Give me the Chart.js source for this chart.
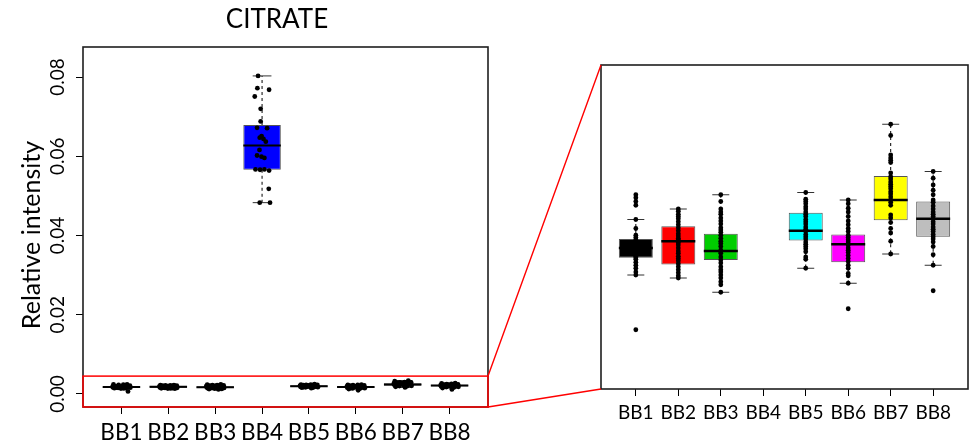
<!DOCTYPE html>
<html>
<head>
<meta charset="utf-8">
<title>CITRATE</title>
<script src="https://cdn.jsdelivr.net/npm/chart.js@4.4.1/dist/chart.umd.min.js"></script>
<style>
  html, body { margin: 0; padding: 0; background: #ffffff; }
  #wrap { position: relative; width: 980px; height: 445px; overflow: hidden; }
  #wrap canvas { position: absolute; top: 0; }
  #overview { left: 0; }
  #detail { left: 560px; }
  #links { left: 0; pointer-events: none; }
</style>
</head>
<body>
<div id="wrap">
  <canvas id="overview" width="554" height="445"></canvas>
  <canvas id="detail" width="420" height="445"></canvas>
  <canvas id="links" width="980" height="445"></canvas>
</div>
<script>
// ---- groups -------------------------------------------------------------
const categories = ['BB1', 'BB2', 'BB3', 'BB4', 'BB5', 'BB6', 'BB7', 'BB8'];
const boxColors  = ['#000000', '#FF0000', '#00CD00', '#0000FF', '#00FFFF', '#FF00FF', '#FFFF00', '#BEBEBE'];

// ---- box statistics (relative intensity) --------------------------------
const whiskerLow    = [0.00136, 0.00132, 0.00113, 0.0483, 0.00145, 0.00125, 0.00164, 0.00149];
const lowerQuartile = [0.00159, 0.00150, 0.00156, 0.0566, 0.00182, 0.00153, 0.00209, 0.00187];
const medians       = [0.00172, 0.00181, 0.00168, 0.0627, 0.00195, 0.00177, 0.00236, 0.00211];
const upperQuartile = [0.00184, 0.00201, 0.00191, 0.0679, 0.00219, 0.00190, 0.00268, 0.00234];
const whiskerHigh   = [0.00210, 0.00224, 0.00243, 0.0803, 0.00246, 0.00236, 0.00337, 0.00274];

// ---- individual samples -------------------------------------------------
const samplesBB1 = [0.00243, 0.00239, 0.00234, 0.00229, 0.00210, 0.00198, 0.00189, 0.00186, 0.00183, 0.00181,
                    0.00179, 0.00177, 0.00175, 0.00173, 0.00172, 0.00171, 0.00169, 0.00167, 0.00164, 0.00161,
                    0.00159, 0.00157, 0.00153, 0.00149, 0.00145, 0.00140, 0.00136, 0.00063];
const samplesBB2 = [0.00224, 0.00221, 0.00217, 0.00214, 0.00211, 0.00207, 0.00203, 0.00199, 0.00195, 0.00191,
                    0.00188, 0.00185, 0.00183, 0.00181, 0.00179, 0.00176, 0.00172, 0.00168, 0.00165, 0.00161,
                    0.00158, 0.00155, 0.00151, 0.00147, 0.00143, 0.00139, 0.00135, 0.00132];
const samplesBB3 = [0.00243, 0.00234, 0.00224, 0.00220, 0.00217, 0.00212, 0.00208, 0.00204, 0.00199, 0.00196,
                    0.00193, 0.00189, 0.00185, 0.00181, 0.00178, 0.00174, 0.00169, 0.00167, 0.00165, 0.00160,
                    0.00156, 0.00152, 0.00147, 0.00143, 0.00140, 0.00136, 0.00132, 0.00127, 0.00123, 0.00113];
const samplesBB4 = [0.0803, 0.0772, 0.0768, 0.0751, 0.0720, 0.0688, 0.0672, 0.0671, 0.0651, 0.0647,
                    0.0644, 0.0637, 0.0616, 0.0602, 0.0599, 0.0596, 0.0567, 0.0566, 0.0567, 0.0564,
                    0.0518, 0.0483, 0.0483];
const samplesBB5 = [0.00246, 0.00237, 0.00234, 0.00231, 0.00227, 0.00224, 0.00220, 0.00217, 0.00214, 0.00210,
                    0.00207, 0.00204, 0.00200, 0.00197, 0.00194, 0.00190, 0.00187, 0.00184, 0.00180, 0.00177,
                    0.00174, 0.00171, 0.00167, 0.00160, 0.00157, 0.00145];
const samplesBB6 = [0.00236, 0.00231, 0.00225, 0.00220, 0.00214, 0.00208, 0.00203, 0.00198, 0.00194, 0.00189,
                    0.00186, 0.00183, 0.00180, 0.00176, 0.00172, 0.00169, 0.00166, 0.00162, 0.00158, 0.00154,
                    0.00149, 0.00145, 0.00138, 0.00135, 0.00125, 0.00091];
const samplesBB7 = [0.00337, 0.00322, 0.00296, 0.00292, 0.00289, 0.00286, 0.00272, 0.00267, 0.00264, 0.00260,
                    0.00257, 0.00254, 0.00251, 0.00247, 0.00244, 0.00240, 0.00236, 0.00233, 0.00229, 0.00216,
                    0.00212, 0.00206, 0.00198, 0.00192, 0.00181, 0.00164];
const samplesBB8 = [0.00274, 0.00265, 0.00256, 0.00249, 0.00243, 0.00236, 0.00233, 0.00228, 0.00224, 0.00220,
                    0.00217, 0.00214, 0.00211, 0.00207, 0.00204, 0.00200, 0.00197, 0.00194, 0.00190, 0.00187,
                    0.00184, 0.00180, 0.00174, 0.00163, 0.00149, 0.00115];
const samples = [samplesBB1, samplesBB2, samplesBB3, samplesBB4, samplesBB5, samplesBB6, samplesBB7, samplesBB8];

// horizontal spread of the strip points in the overview (category units)
const spreadBB4 = [-0.085, -0.10, 0.15, -0.156, -0.03, -0.03, -0.107, 0.107, -0.01, -0.05,
                   0.03, 0.08, -0.055, -0.107, -0.013, 0.05, -0.14, -0.043, 0.05, 0.15,
                   0.143, -0.05, 0.17];
const spreadOther = [0.12, -0.17, 0.04, -0.06, 0.18, -0.12, 0.08, -0.02, 0.15, -0.19,
                     0.01, 0.10, -0.09, 0.17, -0.14, 0.06, -0.04, 0.13, -0.18, 0.03,
                     -0.11, 0.19, -0.07, 0.09, -0.15, 0.05, -0.01, 0.14, -0.13, 0.07];

// ---- axes -----------------------------------------------------------------
const overviewTicks = [0, 0.02, 0.04, 0.06, 0.08];
const overviewRange = [-0.0033, 0.0876];
const detailRange   = [-0.00016, 0.00416];
const zoomTop       = 0.0045;   // upper edge of the magnified window
const xRange        = [0.18, 8.82];
const yAxisLabel    = 'Relative intensity';

const BOX_WIDTH = 0.8;
const CAP_WIDTH = 0.4;

// line data made of separate segments, broken by null points
function segments(list) {
  const out = [];
  list.forEach(([x1, y1, x2, y2]) => {
    out.push({ x: x1, y: y1 }, { x: x2, y: y2 }, { x: x2, y: null });
  });
  return out;
}

function buildDatasets(cfg) {
  const whiskers = [], caps = [], mids = [];
  categories.forEach((c, i) => {
    const x = i + 1;
    whiskers.push([x, upperQuartile[i], x, whiskerHigh[i]]);
    whiskers.push([x, lowerQuartile[i], x, whiskerLow[i]]);
    caps.push([x - CAP_WIDTH / 2, whiskerHigh[i], x + CAP_WIDTH / 2, whiskerHigh[i]]);
    caps.push([x - CAP_WIDTH / 2, whiskerLow[i], x + CAP_WIDTH / 2, whiskerLow[i]]);
    mids.push([x - BOX_WIDTH / 2, medians[i], x + BOX_WIDTH / 2, medians[i]]);
  });

  const points = [];
  samples.forEach((vals, i) => {
    vals.forEach((v, k) => {
      let dx = 0;
      if (cfg.spread) dx = (i === 3) ? spreadBB4[k] : spreadOther[k % spreadOther.length];
      points.push({ x: i + 1 + dx, y: v });
    });
  });

  const seg = { type: 'line', pointRadius: 0, pointHoverRadius: 0, spanGaps: false,
                borderColor: '#000000', fill: false, tension: 0 };
  return [
    Object.assign({}, seg, { label: 'whiskers', data: segments(whiskers), borderWidth: 1,
                             borderDash: [3, 3], order: 5 }),
    { type: 'bar', label: 'boxes', order: 4,
      data: categories.map((c, i) => ({ x: i + 1, y: [lowerQuartile[i], upperQuartile[i]] })),
      backgroundColor: boxColors, borderColor: '#555555', borderWidth: 1, borderSkipped: false,
      barPercentage: BOX_WIDTH, categoryPercentage: 1 },
    Object.assign({}, seg, { label: 'medians', data: segments(mids), borderWidth: cfg.medianWidth, order: 3 }),
    Object.assign({}, seg, { label: 'caps', data: segments(caps), borderWidth: 1, borderColor: '#333333', order: 2 }),
    { type: 'scatter', label: 'samples', order: 1, data: points,
      pointRadius: cfg.pointRadius, pointHoverRadius: cfg.pointRadius,
      pointBackgroundColor: '#000000', pointBorderWidth: 0, showLine: false }
  ];
}

// plot frame, the red window marking the magnified range, and the y-axis label
const framePlugin = {
  id: 'frame',
  afterDatasetsDraw(chart, args, opts) {
    const { ctx, chartArea: a } = chart;
    ctx.save();
    ctx.strokeStyle = '#1e1e1e';
    ctx.lineWidth = 1.6;
    ctx.strokeRect(a.left, a.top, a.right - a.left, a.bottom - a.top);
    if (opts && opts.windowTop !== undefined) {
      const yTop = chart.scales.y.getPixelForValue(opts.windowTop);
      ctx.strokeStyle = '#ff0000';
      ctx.lineWidth = 1.5;
      ctx.strokeRect(a.left, yTop, a.right - a.left, a.bottom - yTop);
    }
    if (opts && opts.axisLabel) {
      ctx.translate(opts.axisLabel.x, (a.top + a.bottom) / 2 + opts.axisLabel.shift);
      ctx.rotate(-Math.PI / 2);
      ctx.fillStyle = '#000000';
      ctx.font = opts.axisLabel.size + 'px Lato';
      ctx.textAlign = 'center';
      ctx.textBaseline = 'middle';
      ctx.fillText(opts.axisLabel.text, 0, 0);
    }
    ctx.restore();
  }
};

function xAxis(fontSize, axisHeight) {
  return {
    type: 'linear', min: xRange[0], max: xRange[1], offset: false,
    afterBuildTicks: s => { s.ticks = categories.map((c, i) => ({ value: i + 1 })); },
    afterFit: s => { s.height = axisHeight; },
    ticks: { callback: v => categories[Math.round(v) - 1], autoSkip: false, maxRotation: 0, minRotation: 0,
             color: '#000000', font: { size: fontSize }, padding: 5 },
    grid: { drawOnChartArea: false, drawTicks: true, tickLength: 7, tickColor: '#000000', tickWidth: 1, offset: false },
    border: { display: false }
  };
}

function draw() {
  Chart.defaults.font.family = 'Lato, "Open Sans", sans-serif';
  Chart.defaults.color = '#000000';

  const overview = new Chart(document.getElementById('overview'), {
    type: 'bar',
    data: { datasets: buildDatasets({ spread: true, pointRadius: 2.4, medianWidth: 2 }) },
    plugins: [framePlugin],
    options: {
      responsive: false, animation: false, devicePixelRatio: 1,
      layout: { padding: 0 },
      plugins: {
        legend: { display: false },
        tooltip: { enabled: false },
        title: { display: true, text: 'CITRATE', color: '#000000',
                 font: { size: 26, weight: 'normal' }, padding: { top: 4, bottom: 11.8 } },
        frame: { windowTop: zoomTop, axisLabel: { text: yAxisLabel, x: 32, shift: 8, size: 25 } }
      },
      scales: {
        x: xAxis(22.5, 38),
        y: {
          type: 'linear', min: overviewRange[0], max: overviewRange[1],
          afterBuildTicks: s => { s.ticks = overviewTicks.map(v => ({ value: v })); },
          afterFit: s => { s.width = 83; },
          ticks: { callback: v => Number(v).toFixed(2), minRotation: 90, maxRotation: 90,
                   crossAlign: 'center', padding: -1, color: '#000000', font: { size: 19 } },
          grid: { drawOnChartArea: false, drawTicks: true, tickLength: 7, tickColor: '#000000', tickWidth: 1 },
          border: { display: false }
        },
        // empty margin on the right, keeps the title centred on the whole canvas
        margin: {
          type: 'linear', position: 'right', display: true,
          afterFit: s => { s.width = 66; },
          ticks: { display: false },
          grid: { display: false, drawTicks: false },
          border: { display: false }
        }
      }
    }
  });

  const detail = new Chart(document.getElementById('detail'), {
    type: 'bar',
    data: { datasets: buildDatasets({ spread: false, pointRadius: 2.4, medianWidth: 2.7 }) },
    plugins: [framePlugin],
    options: {
      responsive: false, animation: false, devicePixelRatio: 1,
      layout: { padding: { left: 41, right: 12, top: 65, bottom: 0 } },
      plugins: { legend: { display: false }, tooltip: { enabled: false }, title: { display: false } },
      scales: {
        x: xAxis(19, 56),
        y: { type: 'linear', display: false, min: detailRange[0], max: detailRange[1] }
      }
    }
  });

  // connector lines from the red window to the magnified panel
  const A = overview.chartArea, B = detail.chartArea;
  const dx = detail.canvas.offsetLeft;
  const yTop = overview.scales.y.getPixelForValue(zoomTop);
  const ctx = document.getElementById('links').getContext('2d');
  ctx.strokeStyle = '#ff0000';
  ctx.lineWidth = 1.4;
  ctx.beginPath();
  ctx.moveTo(A.right, yTop);
  ctx.lineTo(dx + B.left, B.top);
  ctx.moveTo(A.right, A.bottom);
  ctx.lineTo(dx + B.left, B.bottom);
  ctx.stroke();
}

Promise.all(['19px Lato', '22px Lato', '25px Lato', '26px Lato'].map(f => document.fonts.load(f)))
  .then(draw, draw);
</script>
</body>
</html>
